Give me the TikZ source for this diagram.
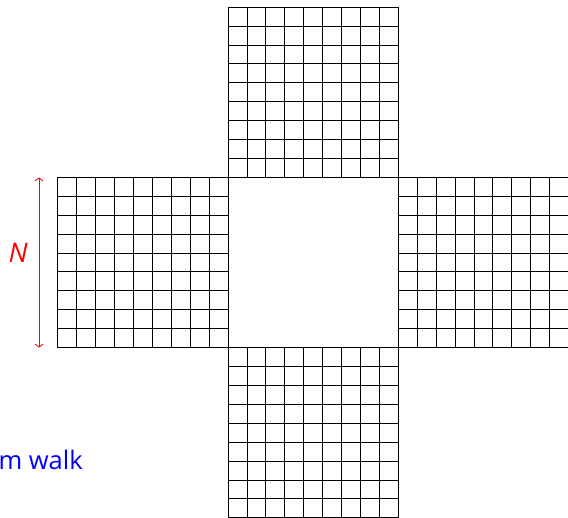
\documentclass[tikz,border=0pt]{standalone}
\usepackage{fontspec}
\setmainfont{Open Sans}
\usetikzlibrary{arrows.meta}
\begin{document}
\begin{tikzpicture}[x=18.9bp,y=18.9bp,
  gridline/.style={line width=1bp,black,step=18.9bp},
  sizearrow/.style={red,line width=0.8bp,{Straight Barb[length=3bp,width=8bp]}-{Straight Barb[length=3bp,width=8bp]}},
  sizelabel/.style={red,font=\fontsize{27bp}{30bp}\selectfont\itshape,inner sep=0pt},
  caption/.style={blue,font=\fontsize{25.5bp}{30bp}\selectfont,inner sep=0pt,anchor=base west}]
\useasboundingbox (-12.063,-8.973) rectangle (17.97,18.381);
\clip (-12.063,-8.973) rectangle (17.97,18.381);
% four grids around an empty centre square
\draw[gridline] (0,9) grid (9,18);
\draw[gridline] (-9,0) grid (0,9);
\draw[gridline] (9,0) grid (18,9);
\draw[gridline] (0,-9) grid (9,0);
% size arrow with label
\coordinate (atop) at (-10,9);
\coordinate (abot) at (-10,0);
\draw[sizearrow] (abot) -- (atop);
\node[sizelabel] (nlabel) at (-11.11,5.03) {N};
% caption (clipped in the reference)
\node[caption] (cap) at (-12.15,-6.43) {m walk};
\end{tikzpicture}
\end{document}
